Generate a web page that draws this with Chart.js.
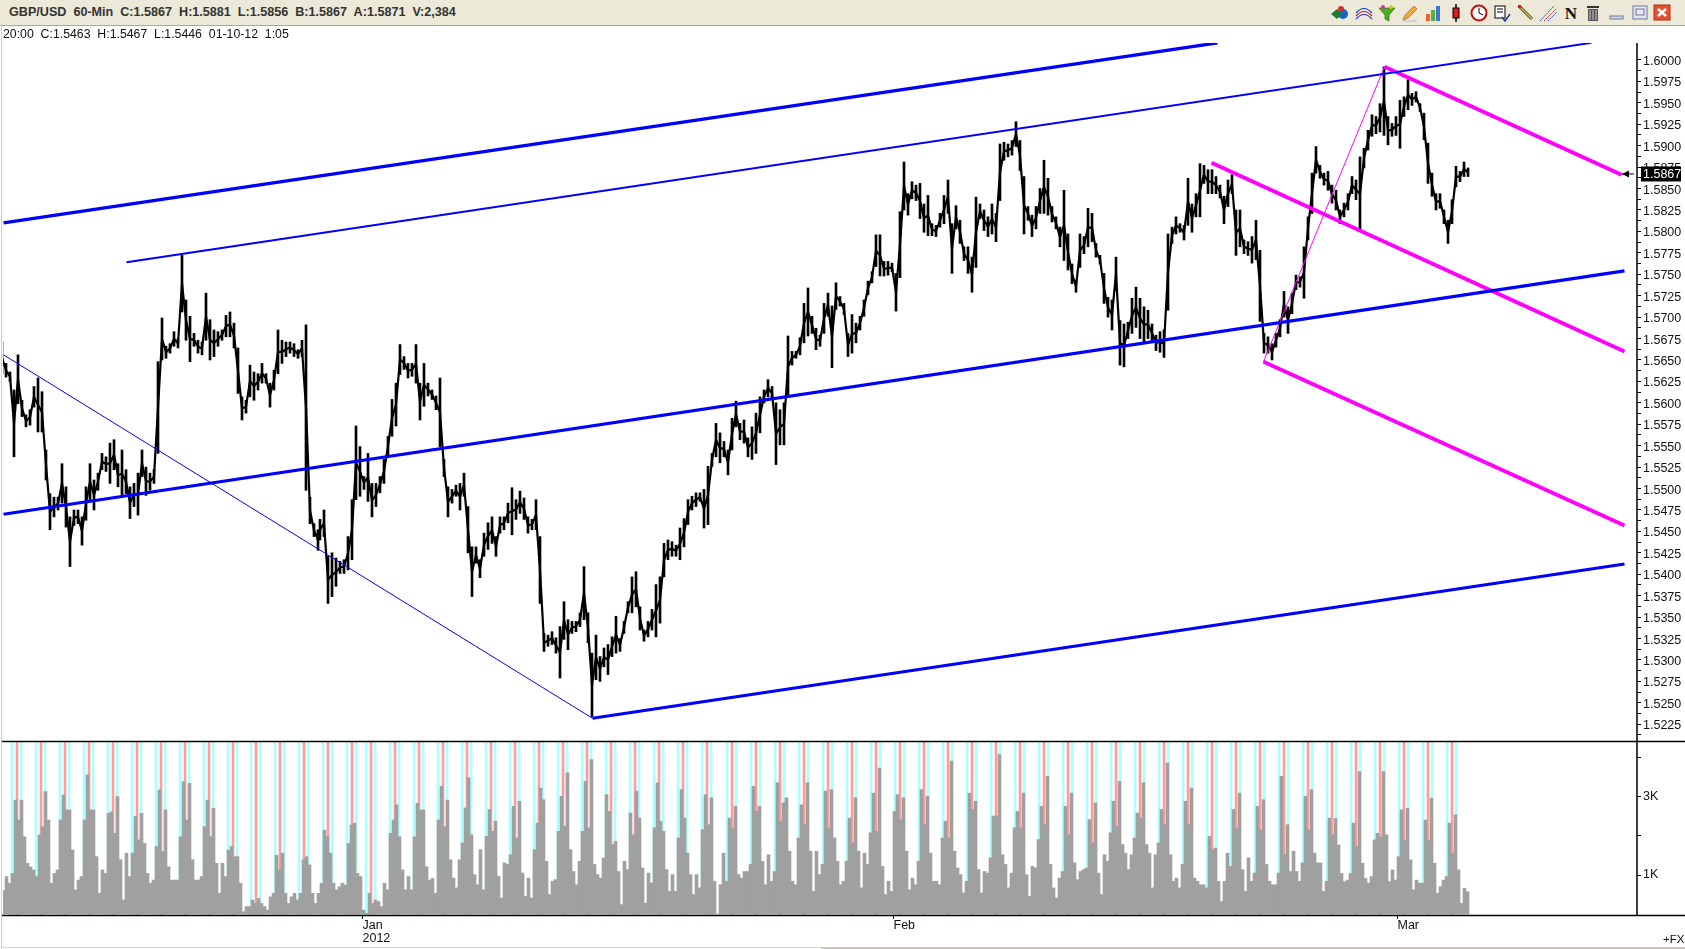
<!DOCTYPE html>
<html><head><meta charset="utf-8">
<script src="https://cdn.jsdelivr.net/npm/chart.js@4"></script>
<style>
html,body{margin:0;padding:0;background:#fff;overflow:hidden}
#wrap{position:relative;width:1685px;height:949px;overflow:hidden;background:#fff}
#chart{position:absolute;left:0;top:0}
#bar{position:absolute;left:0;top:0;width:1685px;height:25px;background:#ECE9D8;border-bottom:1px solid #ACA899}
#title{position:absolute;left:9px;top:5px;font:700 12.6px "Liberation Sans",Arial,sans-serif;color:#333;white-space:pre}
#sub{position:absolute;left:3px;top:27px;font:12.3px "Liberation Sans",Arial,sans-serif;color:#111;white-space:pre}
#edge{position:absolute;left:1px;top:26px;width:1px;height:923px;background:#cfcdc6}
#scroll{position:absolute;left:821px;top:947px;width:864px;height:2px;background:#cac6b8}
#base{position:absolute;left:1px;top:947px;width:820px;height:1px;background:#d8d6ce}
#fx{position:absolute;left:1663px;top:933px;font:11.5px "Liberation Sans",Arial,sans-serif;color:#111}
svg.i{position:absolute;top:3px;width:20px;height:20px}
</style></head><body>
<div id="wrap">
<canvas id="chart" width="1685" height="949"></canvas>
<div id="bar"><div id="title">GBP/USD  60-Min  C:1.5867  H:1.5881  L:1.5856  B:1.5867  A:1.5871  V:2,384</div>
<svg class="i" style="left:1330px" viewBox="0 0 20 20"><circle cx="13" cy="11" r="5" fill="#1c62c4"/><path d="M1 11l6-5 5 5-5 5z" fill="#1e7d34"/><circle cx="11" cy="6" r="3" fill="#c83232"/></svg>
<svg class="i" style="left:1354px" viewBox="0 0 20 20" fill="none" stroke-width="1.2"><path d="M2 10q8-9 16 0" stroke="#1a3ad0"/><path d="M2 13q8-9 16 0" stroke="#d01a1a"/><path d="M2 16q8-9 16 0" stroke="#1a3ad0"/></svg>
<svg class="i" style="left:1377px" viewBox="0 0 20 20"><path d="M2 5h16l-6 7v6l-4-2v-4z" fill="#4caf1e" stroke="#1d5d0c" stroke-width=".6"/><circle cx="6" cy="4" r="2" fill="#d03a9a"/><circle cx="14" cy="4" r="2" fill="#e2c51e"/></svg>
<svg class="i" style="left:1400px" viewBox="0 0 20 20"><path d="M3 17l2-5 9-9 3 3-9 9z" fill="#f0a83c" stroke="#8a5a14" stroke-width=".6"/><path d="M3 18h14" stroke="#bbb"/></svg>
<svg class="i" style="left:1423px" viewBox="0 0 20 20"><rect x="3" y="11" width="4" height="7" fill="#e8662a"/><rect x="8" y="7" width="4" height="11" fill="#5cae3a"/><rect x="13" y="3" width="4" height="15" fill="#3c7ad0"/></svg>
<svg class="i" style="left:1446px" viewBox="0 0 20 20"><path d="M10 1v18" stroke="#000" stroke-width="1.5"/><rect x="7" y="5" width="6" height="10" fill="#e01818" stroke="#000"/></svg>
<svg class="i" style="left:1469px" viewBox="0 0 20 20"><circle cx="10" cy="10" r="7.5" fill="#fff" stroke="#c01010" stroke-width="2"/><path d="M10 5v5l4 2" stroke="#000" fill="none"/></svg>
<svg class="i" style="left:1492px" viewBox="0 0 20 20"><rect x="3" y="3" width="10" height="12" fill="#fff" stroke="#000"/><path d="M5 6h6M5 9h6" stroke="#000"/><path d="M10 14l3 4 5-7" stroke="#2230a0" stroke-width="1.4" fill="none"/></svg>
<svg class="i" style="left:1516px" viewBox="0 0 20 20"><path d="M3 3l13 13" stroke="#222" stroke-width="3"/><path d="M3 3l13 13" stroke="#e8d23c" stroke-width="1.4"/><circle cx="3.5" cy="3.5" r="1.8" fill="#d01818"/></svg>
<svg class="i" style="left:1538px" viewBox="0 0 20 20" fill="none"><path d="M2 18L16 3" stroke="#2040e0" stroke-dasharray="2 1"/><path d="M6 18L18 6" stroke="#e03020" stroke-dasharray="2 1"/><path d="M10 18L19 9" stroke="#2040e0" stroke-dasharray="2 1"/></svg>
<svg class="i" style="left:1561px" viewBox="0 0 20 20"><text x="10" y="16" text-anchor="middle" font-family="Liberation Serif" font-weight="700" font-size="17" fill="#111">N</text></svg>
<svg class="i" style="left:1583px" viewBox="0 0 20 20"><rect x="5" y="6" width="10" height="12" fill="#555"/><path d="M7 7v10M10 7v10M13 7v10" stroke="#ccc"/><rect x="4" y="3" width="12" height="2" fill="#333"/></svg>
<svg class="i" style="left:1607px" viewBox="0 0 20 20"><rect x="3" y="13" width="13" height="3" fill="#d5d5e2" stroke="#6a7aa0"/></svg>
<svg class="i" style="left:1630px" viewBox="0 0 20 20"><rect x="3" y="3" width="14" height="13" fill="#e6e6ee" stroke="#6a7aa0"/><rect x="6" y="6" width="8" height="6" fill="none" stroke="#6a7aa0"/></svg>
<svg class="i" style="left:1652px" viewBox="0 0 20 20"><rect x="2" y="2" width="16" height="15" fill="#e5502e" stroke="#a83018"/><path d="M6 6l8 7M14 6l-8 7" stroke="#fff" stroke-width="2.4"/></svg>
</div>
<div id="sub">20:00  C:1.5463  H:1.5467  L:1.5446  01-10-12  1:05</div>
<div id="edge"></div><div id="base"></div><div id="scroll"></div><div id="fx">+FX</div>
</div>
<script>
// Price bars: [high, low] in pips above 1.0000, one pair every 4 hourly bars.
const priceStartDec = 2;
const priceDec = [[5671,5634],[5646,5630],[5636,5625],[5615,5537],[5656,5599],[5603,5584],[5586,5572],[5592,5574],[5619,5595],[5629,5566],[5613,5566],[5545,5510],[5494,5452],[5490,5467],[5490,5475],[5529,5483],[5502,5455],[5467,5409],[5475,5457],[5475,5459],[5467,5434],[5502,5463],[5529,5487],[5510,5475],[5518,5498],[5541,5522],[5537,5520],[5553,5506],[5557,5522],[5529,5502],[5545,5490],[5522,5494],[5502,5465],[5506,5479],[5518,5469],[5545,5514],[5525,5492],[5518,5498],[5522,5506],[5648,5541],[5699,5650],[5666,5652],[5669,5658],[5683,5666],[5675,5664],[5772,5706],[5720,5673],[5701,5648],[5681,5666],[5673,5658],[5671,5656],[5728,5673],[5697,5650],[5685,5654],[5683,5666],[5685,5673],[5702,5677],[5706,5677],[5693,5664],[5664,5611],[5607,5580],[5603,5588],[5644,5607],[5636,5603],[5634,5615],[5646,5623],[5634,5623],[5623,5595],[5638,5615],[5685,5634],[5673,5646],[5671,5654],[5671,5658],[5669,5654],[5662,5652],[5673,5654],[5691,5498],[5490,5459],[5459,5444],[5452,5428]];
const priceStartJan = 320;
const priceJan = [[5464,5440],[5475,5444],[5421,5366],[5425,5374],[5419,5386],[5415,5401],[5417,5401],[5444,5405],[5487,5417],[5573,5487],[5549,5491],[5514,5499],[5541,5485],[5506,5467],[5506,5479],[5514,5495],[5534,5506],[5561,5538],[5604,5561],[5623,5573],[5668,5633],[5654,5639],[5646,5629],[5646,5631],[5668,5623],[5623,5580],[5646,5596],[5623,5608],[5615,5604],[5608,5592],[5629,5549],[5534,5514],[5502,5467],[5499,5483],[5504,5491],[5506,5475],[5518,5491],[5479,5425],[5432,5374],[5432,5413],[5417,5396],[5448,5421],[5460,5429],[5467,5436],[5444,5421],[5467,5448],[5467,5452],[5483,5460],[5501,5446],[5487,5464],[5497,5471],[5489,5464],[5467,5448],[5464,5452],[5487,5452],[5444,5366],[5331,5310],[5329,5316],[5333,5318],[5326,5308],[5339,5279],[5368,5324],[5347,5312],[5345,5331],[5345,5333],[5355,5339],[5409,5347],[5355,5320],[5308,5234],[5329,5277],[5304,5275],[5314,5292],[5318,5283],[5327,5304],[5351,5308]];
const priceStartLateJan = 620;
const priceLateJan = [[5325,5310],[5345,5331],[5368,5355],[5397,5355],[5403,5362],[5362,5335],[5335,5322],[5345,5327],[5359,5335],[5388,5327],[5397,5343],[5436,5397],[5440,5417],[5438,5421],[5434,5421],[5454,5417],[5465,5432],[5487,5458],[5491,5475],[5495,5479],[5495,5485],[5499,5454],[5526,5458],[5541,5526],[5576,5537],[5565,5530],[5555,5537],[5545,5516],[5582,5545],[5602,5572],[5576,5557],[5580,5553],[5559,5537],[5572,5534],[5588,5541],[5607,5565],[5615,5600],[5627,5607],[5619,5604],[5600,5528],[5592,5551],[5600,5551],[5678,5607],[5660,5644],[5660,5652],[5676,5656],[5716,5670],[5734,5678],[5701,5681],[5687,5662],[5679,5666],[5716,5681],[5728,5701],[5713,5641],[5740,5709],[5724,5713],[5716,5703],[5681,5654],[5703,5658],[5693,5670],[5701,5685],[5720,5701],[5742,5726],[5753,5740],[5796,5759],[5796,5748],[5765,5748],[5765,5749],[5763,5753],[5751,5707],[5823,5746]];
const priceStartFeb = 904;
const priceFeb = [[5881,5825],[5844,5819],[5858,5838],[5854,5836],[5856,5815],[5832,5799],[5842,5795],[5809,5795],[5807,5794],[5821,5805],[5842,5809],[5860,5821],[5809,5751],[5830,5803],[5813,5786],[5782,5766],[5782,5751],[5770,5729],[5840,5758],[5832,5815],[5825,5801],[5817,5794],[5832,5797],[5821,5788],[5902,5836],[5904,5883],[5902,5887],[5906,5889],[5928,5899],[5906,5871],[5864,5797],[5829,5813],[5819,5794],[5829,5803],[5850,5821],[5883,5821],[5862,5819],[5829,5811],[5817,5803],[5805,5782],[5848,5766],[5797,5755],[5762,5739],[5743,5729],[5797,5758],[5794,5774],[5827,5782],[5821,5788],[5786,5770],[5772,5762],[5751,5716],[5723,5700],[5720,5685],[5770,5731],[5696,5644],[5692,5642],[5694,5675],[5722,5681],[5735,5688],[5722,5675],[5712,5671],[5708,5675],[5692,5671],[5679,5661],[5683,5659],[5685,5653],[5797,5708],[5805,5786],[5817,5797],[5809,5799],[5807,5790],[5862,5807],[5832,5799],[5844,5817],[5879,5817]];
const priceStartMar = 1204;
const priceMar = [[5877,5856],[5872,5844],[5872,5844],[5864,5844],[5854,5839],[5841,5809],[5860,5829],[5866,5844],[5825,5772],[5825,5782],[5790,5774],[5788,5772],[5794,5763],[5813,5767],[5778,5695],[5681,5658],[5677,5658],[5669,5650],[5681,5665],[5697,5677],[5730,5700],[5712,5681],[5728,5704],[5749,5732],[5747,5735],[5782,5722],[5817,5790],[5868,5821],[5899,5868],[5877,5862],[5868,5854],[5870,5848],[5854,5833],[5848,5825],[5825,5809],[5833,5817],[5844,5825],[5864,5844],[5860,5837],[5887,5800],[5897,5874],[5918,5895],[5936,5911],[5934,5914],[5949,5916],[5992,5912],[5934,5901],[5926,5911],[5934,5912],[5953,5897],[5957,5934],[5977,5942],[5961,5947],[5963,5951],[5949,5940],[5938,5907],[5903,5856],[5868,5841],[5844,5825],[5844,5827],[5825,5809],[5813,5786],[5837,5809],[5876,5852],[5870,5858],[5881,5864],[5874,5864]];
// Volume: one reading every 3 hourly bars.
const volStartDec = 3;
const volDec = [600,960,790,1040,2920,2410,2920,1980,1300,1210,1130,960,2030,2240,3140,2410,790,1040,1130,2410,3050,2670,2670,1640,620,870,960,2410,3570,2670,2670,1470,530,1130,1040,2580,2620,2070,3010,1390,360,1560,960,1560,2500,1900,2580,1810,1040,790,870,1730,3180,1600,2670,1210,870,870,870,1980,3390,2410,3350,1390,870,870,960,2240,2920,1980,2710,1300,530,1300,960,1640,1730,1470,1470,790,60,190,190,360,270,400,270,190,100,440,530,1510,1130,1560,530,270,440,530,360,530,1390,1470,1260,530,270,530,790,2150,1980,1560,790,620,700,790,740,1810,2280,2330,1040,960,100,20,530,270,360,320,190,790,620,2070,2410,2800,1980,1130,620,960,620,1980,2840,2670,2670,1210,870,910,530,2410,3270,2240,2920,1390];
const volStartJan = 453;
const volJan = [920,670,1390,1820,2720,3490,2030,1010,750,1650,620,1990,2680,2120,2380,970,410,1310,1270,1520,2760,1950,2890,1050,450,920,410,1650,2330,3230,2930,1350,500,840,880,2120,3020,2250,3620,1650,1090,750,1350,2120,3400,2210,3960,1270,1010,920,1440,3060,2630,1780,1860,1090,240,1350,1140,2590,2030,3150,2460,1180,280,1050,800,2210,3360,2380,2120,1140,580,1010,580,1950,3190,2460,1560,1010,500,1010,670,2160,3060,2290,2980,840,0,750,1560,840,2460,2210,2760,1010,920,1090,1090,1270,3270,2630,2760,1350,750,1520,840,1090,3360,2380,2850,2980,1610,840,750,1950,2800,2290,3360,1610,580,1610,1010,1270,3150,2210,3190,1950,1350,750,840,1350,2460,1820,2980,1610,670,1560,1270,2080,3100,2120,3740,1220,500,840];
const volStartFeb = 891;
const volFeb = [580,2630,3060,2420,2980,1610,620,920,750,1350,3190,2290,3020,1560,840,840,750,1950,2380,1950,3920,1610,1180,1010,540,840,3100,2680,2890,1140,540,1090,1050,1440,2510,2510,4090,1520,1270,670,1050,2210,2630,2210,3100,1010,450,1220,1180,1910,2760,2290,3530,1270,670,410,920,1090,2760,2030,3100,1310,880,1090,1140,1180,2420,1820,2850,1050,500,1520,1350,2080,2890,2250,3400,1780,1560,1140,1520,1950,2590,2460,3360,1780,1560,670,1520,1820,2680,2290,3870,1520,840,920,670,1270,2890,2290,3230,920,840,750,750,670,1990,1650,1690,840,320,840,1560,1220,2680,2210,3100,1140,580,1440,840,1050,2760,2160,2930,1270,840,750,750,1050,3530,1520,2290,1090,1610,1090,840,1310,3020,2160,3190,1560,1310,1310,580,840,2460];
const volStartMar = 1332;
const volMar = [2030,2450,1770,1040,830,870,1040,2330,1730,3650,1300,910,790,960,1900,2070,1980,3650,2030,830,1130,870,1470,2670,1900,2710,1390,620,870,790,790,2410,1900,2970,1300,530,700,870,960,2330,1560,2540,1130,270,660,570];
// Session marker bars seen in the volume pane.
const sessionRed = [17,41,65,89,113,137,161,185,209,233,256,280,304,328,352,371,395,419,443,467,491,515,539,563,587,611,635,659,683,707,732,756,780,804,828,852,876,900,924,948,972,996,1020,1044,1068,1092,1116,1140,1164,1188,1212,1236,1260,1284,1308,1332,1356,1380,1404,1428,1452];
const sessionCyan = [12,21,36,45,60,69,84,93,108,117,132,141,156,165,180,189,204,213,228,237,251,260,275,284,299,308,323,332,347,356,366,375,390,399,414,423,438,447,462,471,486,495,510,519,534,543,558,567,582,591,606,615,630,639,654,663,678,687,702,711,727,736,751,760,775,784,799,808,823,832,847,856,871,880,895,904,919,928,943,952,967,976,991,1000,1015,1024,1039,1048,1063,1072,1087,1096,1111,1120,1135,1144,1159,1168,1183,1192,1207,1216,1231,1240,1255,1264,1279,1288,1303,1312,1327,1336,1351,1360,1375,1384,1399,1408,1423,1432,1447,1456];
// Axes
const priceLabels = ['1.5225','1.5250','1.5275','1.5300','1.5325','1.5350','1.5375','1.5400','1.5425','1.5450','1.5475','1.5500','1.5525','1.5550','1.5575','1.5600','1.5625','1.5650','1.5675','1.5700','1.5725','1.5750','1.5775','1.5800','1.5825','1.5850','1.5875','1.5900','1.5925','1.5950','1.5975','1.6000'];
const volTicks = [1000,2000,3000,4000];
const volLabels = ['1K','','3K',''];
const dateTicks = [362,893,1397];
const dateLabels = [['Jan','2012'],['Feb'],['Mar']];
const lastClose = 1.5867;
// Trend lines: [hour, price] end points.
const channelTop = [[3,1.5810],[1217,1.6020]];
const channelUpper = [[126,1.5764],[1591,1.6020]];
const channelMid = [[3,1.5470],[1624,1.5754]];
const channelLow = [[592,1.5232],[1624,1.5412]];
const swingDown = [[3,1.5656],[592,1.5232]];
const forkTop = [[1384,1.5992],[1621,1.5866]];
const forkMid = [[1211,1.5880],[1624,1.5660]];
const forkLow = [[1263,1.5648],[1624,1.5457]];
const swingUp = [[1263,1.5648],[1384,1.5992]];

const BLUE='#0000FF', MAG='#FF00FF';
const lineDs=(pts,color,w)=>({type:'line',yAxisID:'y',order:0,data:pts.map(p=>({x:p[0],y:p[1]})),borderColor:color,borderWidth:w,pointRadius:0,tension:0,borderCapStyle:'butt'});
const priceSegments=[[priceStartDec,priceDec],[priceStartJan,priceJan],[priceStartLateJan,priceLateJan],[priceStartFeb,priceFeb],[priceStartMar,priceMar]];
const priceData=[],pricePath=[];
priceSegments.forEach(([start,rows])=>rows.forEach((r,i)=>{
  const x=start+i*4-.5, hi=1+r[0]/10000, lo=1+r[1]/10000;
  priceData.push({x,y:[lo,hi]});
  pricePath.push({x,y:(hi+lo)/2});
}));
const volBars=(start,rows)=>rows.map((v,i)=>({x:start+i*3,y:v}));
const barDs=(data,color,thick,axis,order)=>({type:'bar',yAxisID:axis,order,data,backgroundColor:color,barThickness:thick,grouped:false,borderWidth:0});
const VOL_MIN=-25, VOL_MAX=4435;
const volData=[].concat(volBars(volStartDec,volDec),volBars(volStartJan,volJan),volBars(volStartFeb,volFeb),volBars(volStartMar,volMar));

const frame={id:'frame',afterDraw(c){
  const g=c.ctx,a=c.chartArea,y=c.scales.y,v=c.scales.yv;
  g.save();g.strokeStyle='#000';g.lineWidth=1.5;g.beginPath();
  g.moveTo(a.right,a.top);g.lineTo(a.right,a.bottom);
  const m=Math.round(y.bottom)+.5,b=Math.round(v.bottom)+.5;
  g.moveTo(a.left-1,m);g.lineTo(1685,m);g.moveTo(a.left-1,b);g.lineTo(1685,b);g.stroke();
  const py=y.getPixelForValue(lastClose);
  g.fillStyle='#000';g.fillRect(a.right+4,py-7.5,40,15);
  g.fillStyle='#fff';g.font='12.5px "Liberation Sans"';g.textBaseline='middle';g.textAlign='left';g.fillText(lastClose.toFixed(4),a.right+6,py+.5);
  g.strokeStyle='#000';g.lineWidth=1;g.beginPath();g.moveTo(a.right-15,py);g.lineTo(a.right-3,py);g.stroke();
  g.fillStyle='#000';g.beginPath();g.moveTo(a.right-15,py);g.lineTo(a.right-8,py-3.5);g.lineTo(a.right-8,py+3.5);g.closePath();g.fill();
  g.restore();
}};
const tickFont={family:'"Liberation Sans"',size:12.5,lineHeight:1.05};
const priceTickFont={family:'"Liberation Sans"',size:12.5,lineHeight:.25};
new Chart(document.getElementById('chart'),{
  data:{datasets:[
    lineDs(channelTop,BLUE,3.2),lineDs(channelUpper,BLUE,2),lineDs(channelMid,BLUE,3.2),lineDs(channelLow,BLUE,3.2),lineDs(swingDown,BLUE,1),
    lineDs(forkTop,MAG,3.8),lineDs(forkMid,MAG,3.8),lineDs(forkLow,MAG,3.8),lineDs(swingUp,MAG,1),
    {type:'line',yAxisID:'y',order:1,data:pricePath,borderColor:'#000',borderWidth:2.2,pointRadius:0,tension:0},
    barDs(priceData,'#000',2,'y',1),
    barDs(volData,'#A0A0A0',3,'yv',2),
    barDs(sessionRed.map(h=>({x:h-.5,y:[VOL_MIN,VOL_MAX]})),'#FF9C9C',2,'yv',3),
    barDs(sessionCyan.map(h=>({x:h-.5,y:[VOL_MIN,VOL_MAX]})),'#AAFFFF',2,'yv',4)
  ]},
  options:{responsive:false,devicePixelRatio:1,animation:false,events:[],
    layout:{padding:{left:3,top:43,right:0,bottom:0}},
    plugins:{legend:{display:false},tooltip:{enabled:false}},
    scales:{
      x:{type:'linear',offset:false,min:2.5,max:1636.5,position:'bottom',
        afterFit(s){s.height=34},
        afterBuildTicks(s){s.ticks=dateTicks.map(v=>({value:v}))},
        border:{display:false},grid:{offset:false,drawOnChartArea:false,drawTicks:true,tickLength:4,color:'#000'},
        ticks:{autoSkip:false,maxRotation:0,align:'start',padding:0,color:'#111',font:tickFont,
          callback(v){return dateLabels[dateTicks.indexOf(v)]||''}}},
      y:{type:'linear',position:'right',stack:'panes',stackWeight:698,min:1.52055,max:1.60198,
        afterFit(s){s.width=48},
        afterBuildTicks(s){const t=[];priceLabels.forEach(l=>{const v=+l;t.push({value:v});if(v<1.6)t.push({value:+(v+0.00125).toFixed(5)})});t.push({value:1.52125});s.ticks=t},
        border:{display:false},grid:{drawOnChartArea:false,tickLength:4,color:'#000'},
        ticks:{autoSkip:false,padding:2,color:'#111',font:priceTickFont,
          callback(v){const l=v.toFixed(4);return priceLabels.includes(l)&&Math.abs(v-+l)<1e-6?['',l]:''}}},
      yv:{type:'linear',position:'right',stack:'panes',stackWeight:174,min:VOL_MIN,max:VOL_MAX,
        afterFit(s){s.width=48},
        afterBuildTicks(s){s.ticks=volTicks.map(v=>({value:v}))},
        border:{display:false},grid:{drawOnChartArea:false,tickLength:4,color:'#000'},
        ticks:{autoSkip:false,padding:2,color:'#111',font:tickFont,
          callback(v){return volLabels[volTicks.indexOf(v)]||''}}}
    }},
  plugins:[frame]
});
</script>
</body></html>
